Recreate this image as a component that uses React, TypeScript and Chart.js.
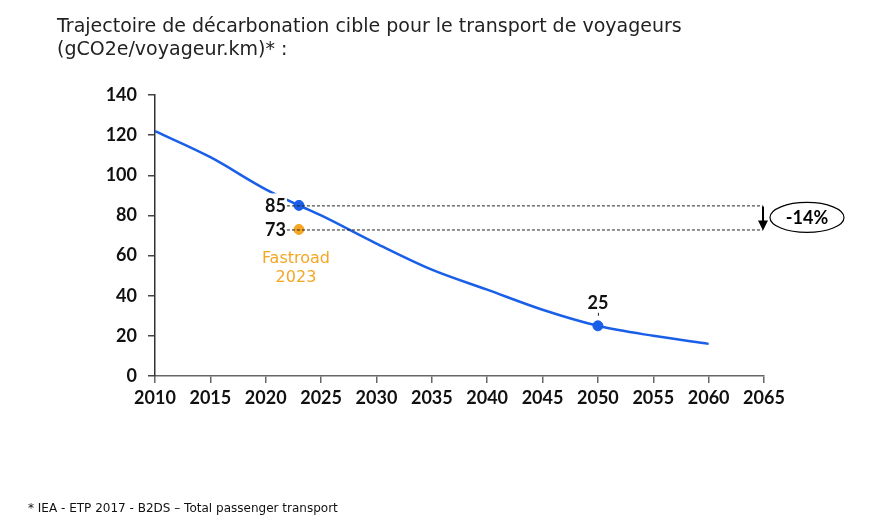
import React, { useEffect, useRef } from "react";
import { Chart, registerables } from "chart.js";

Chart.register(...registerables);

const years = [2010, 2015, 2020, 2023, 2025, 2030, 2035, 2040, 2045, 2050, 2055, 2060];
const trajectory = [122, 109, 93, 85, 80, 66, 53, 43, 33, 25, 20, 16];
const highlightYears = [2023, 2050];
const highlightValues = [85, 25];
const fastroadYear = 2023;
const fastroadValue = 73;
const xTicks = [2010, 2015, 2020, 2025, 2030, 2035, 2040, 2045, 2050, 2055, 2060, 2065];
const titleLines = [
  "Trajectoire de décarbonation cible pour le transport de voyageurs",
  "(gCO2e/voyageur.km)* :",
];
const footnote = "* IEA - ETP 2017 - B2DS – Total passenger transport";
const reductionLabel = "-14%";
const fastroadLabel = ["Fastroad", "2023"];

const BLUE = "#1a5fe8";
const ORANGE = "#f5a623";
const FONT = "'DejaVu Sans', 'Noto Sans', sans-serif";
const NUM_FONT = "Lato, 'DejaVu Sans', sans-serif";

function fitFont(ctx: any, text: string, target: number, weight: string, max: number, family = FONT) {
  let size = max;
  ctx.font = `${weight} ${size}px ${family}`;
  const w = ctx.measureText(text).width;
  size = Math.min(max, (size * target) / w);
  ctx.font = `${weight} ${size}px ${family}`;
}

const overlay = {
  id: "overlay",
  afterDatasetsDraw(chart: any) {
    const ctx = chart.ctx;
    const xs = chart.scales.x;
    const ys = chart.scales.y;
    const x23 = xs.getPixelForValue(fastroadYear);
    const y85 = ys.getPixelForValue(highlightValues[0]);
    const y73 = ys.getPixelForValue(fastroadValue);
    const xEnd = xs.getPixelForValue(2065) - 1;
    ctx.save();
    // white box behind 85 label
    ctx.fillStyle = "#fff";
    ctx.fillRect(x23 - 38, y85 - 12, 26, 22);
    // dashed lines
    ctx.strokeStyle = "#222";
    ctx.lineWidth = 1;
    ctx.setLineDash([3, 2]);
    ctx.beginPath();
    ctx.moveTo(x23 - 12, y85 + 0.5);
    ctx.lineTo(xEnd, y85 + 0.5);
    ctx.moveTo(x23 - 12, y73 + 0.5);
    ctx.lineTo(xEnd, y73 + 0.5);
    ctx.stroke();
    // small tick under 25
    const x50 = xs.getPixelForValue(highlightYears[1]);
    const y25 = ys.getPixelForValue(highlightValues[1]);
    ctx.beginPath();
    ctx.moveTo(x50 + 0.5, y25 - 13);
    ctx.lineTo(x50 + 0.5, y25 - 9);
    ctx.stroke();
    ctx.setLineDash([]);
    // arrow
    ctx.strokeStyle = "#000";
    ctx.fillStyle = "#000";
    ctx.lineWidth = 2;
    ctx.beginPath();
    ctx.moveTo(xEnd, y85 + 1);
    ctx.lineTo(xEnd, y73 - 7);
    ctx.stroke();
    ctx.beginPath();
    ctx.moveTo(xEnd - 5, y73 - 9);
    ctx.lineTo(xEnd + 5, y73 - 9);
    ctx.lineTo(xEnd, y73 + 1);
    ctx.closePath();
    ctx.fill();
    // ellipse
    const cx = xEnd + 44;
    const cy = (y85 + y73) / 2;
    ctx.lineWidth = 1.2;
    ctx.beginPath();
    ctx.ellipse(cx, cy, 37, 15, 0, 0, Math.PI * 2);
    ctx.stroke();
    ctx.font = `bold 18px ${NUM_FONT}`;
    ctx.textAlign = "center";
    ctx.textBaseline = "middle";
    ctx.fillText(reductionLabel, cx, cy + 1);
    // value labels
    ctx.fillStyle = "#111";
    ctx.font = `bold 18px ${NUM_FONT}`;
    ctx.textAlign = "right";
    ctx.fillText(String(highlightValues[0]), x23 - 13, y85 + 1);
    ctx.fillText(String(fastroadValue), x23 - 13, y73 + 1);
    ctx.textAlign = "center";
    ctx.fillText(String(highlightValues[1]), x50, y25 - 23);
    // Fastroad label
    ctx.fillStyle = ORANGE;
    fitFont(ctx, fastroadLabel[0], 69, "normal", 16);
    ctx.fillText(fastroadLabel[0], x23 - 3, y73 + 29);
    ctx.fillText(fastroadLabel[1], x23 - 3, y73 + 48);
    // title
    ctx.fillStyle = "#222";
    ctx.textAlign = "left";
    ctx.textBaseline = "alphabetic";
    fitFont(ctx, titleLines[0], 629, "normal", 19);
    ctx.fillText(titleLines[0], 57, 32);
    ctx.fillText(titleLines[1], 57, 55);
    // footnote
    fitFont(ctx, footnote, 310, "normal", 13);
    ctx.fillStyle = "#111";
    ctx.fillText(footnote, 28, 512);
    ctx.restore();
  },
};

export default function App() {
  const ref = useRef<HTMLCanvasElement | null>(null);
  useEffect(() => {
    if (!ref.current) return;
    const chart = new Chart(ref.current, {
      type: "line",
      data: {
        datasets: [
          {
            data: years.map((y, i) => ({ x: y, y: trajectory[i] })),
            borderColor: BLUE,
            borderWidth: 2.5,
            pointRadius: 0,
            cubicInterpolationMode: "monotone",
            order: 3,
          },
          {
            data: highlightYears.map((y, i) => ({ x: y, y: highlightValues[i] })),
            showLine: false,
            pointRadius: 5,
            pointBackgroundColor: BLUE,
            pointBorderColor: BLUE,
            order: 1,
          },
          {
            data: [{ x: fastroadYear, y: fastroadValue }],
            showLine: false,
            pointRadius: 5,
            pointBackgroundColor: ORANGE,
            pointBorderColor: ORANGE,
            order: 1,
          },
        ],
      },
      options: {
        animation: false,
        responsive: false,
        maintainAspectRatio: false,
        events: [],
        layout: { padding: { left: 0, right: 118, top: 95, bottom: 0 } },
        plugins: { legend: { display: false }, tooltip: { enabled: false }, title: { display: false } },
        scales: {
          x: {
            type: "linear",
            min: 2010,
            max: 2065,
            afterBuildTicks: (s: any) => {
              s.ticks = xTicks.map((v) => ({ value: v }));
            },
            afterFit: (s: any) => {
              s.height = 144;
            },
            grid: { display: true, drawOnChartArea: false, drawTicks: true, tickLength: 7, color: "#666", lineWidth: 1.5 },
            border: { display: true, color: "#666", width: 1.5 },
            ticks: { color: "#111", font: { family: NUM_FONT, size: 18, weight: "bold" }, padding: 4, maxRotation: 0, autoSkip: false, callback: (v: any) => String(v) },
          },
          y: {
            min: 0,
            max: 140,
            afterFit: (s: any) => {
              s.width = 155;
            },
            grid: { display: true, drawOnChartArea: false, drawTicks: true, tickLength: 7, color: "#444", lineWidth: 1.5 },
            border: { display: true, color: "#333", width: 1.5 },
            ticks: { stepSize: 20, color: "#111", font: { family: NUM_FONT, size: 18, weight: "bold" }, padding: 11 },
          },
        },
      },
      plugins: [overlay],
    });
    return () => chart.destroy();
  }, []);
  return (
    <div style={{ position: "fixed", left: 0, top: 0, width: 882, height: 520, background: "#fff" }}>
      <canvas ref={ref} width={882} height={520} style={{ width: 882, height: 520, display: "block" }} />
    </div>
  );
}
